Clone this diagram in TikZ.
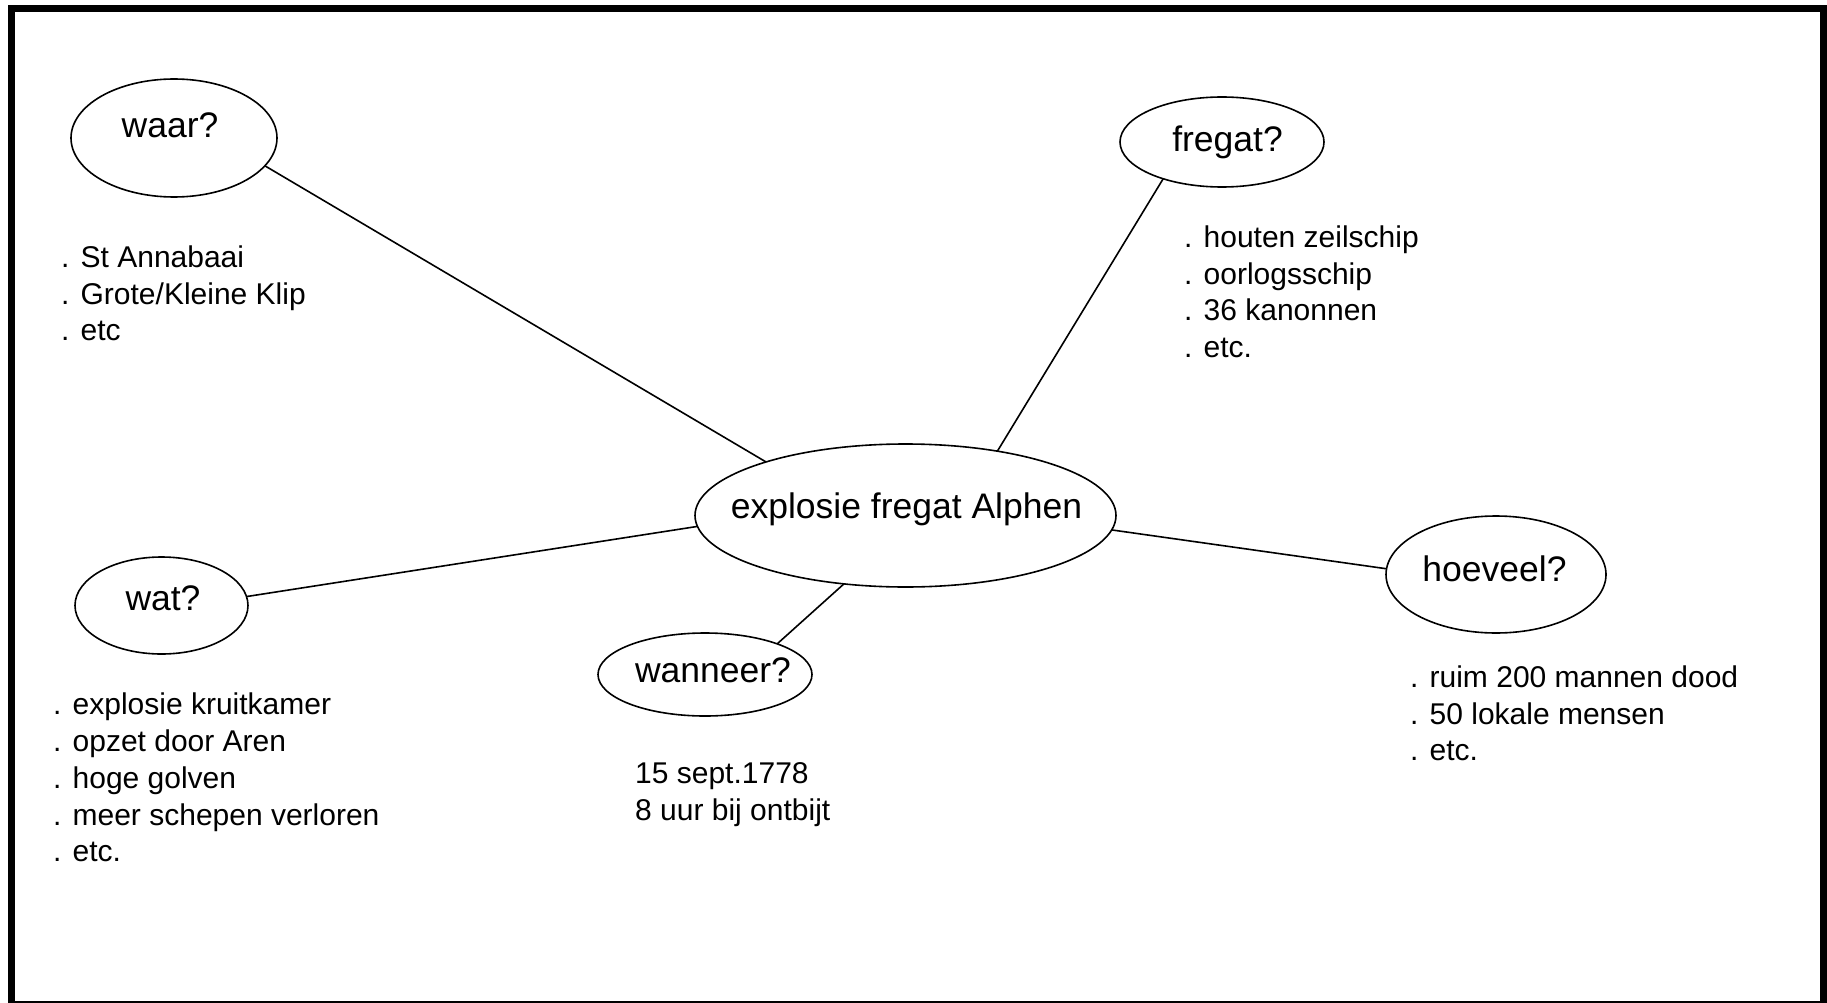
\documentclass[tikz,border=0pt]{standalone}
\usepackage{fontspec}
\setmainfont{Liberation Sans}
\usetikzlibrary{shapes.geometric}
\begin{document}
\begin{tikzpicture}[x=1pt,y=-1pt,
  bubble/.style={ellipse,draw=black,line width=1.6pt,inner sep=0pt,outer sep=0pt},
  bubbletext/.style={anchor=base,inner sep=0pt,font=\fontsize{35.5}{40}\selectfont},
  listtext/.style={anchor=north west,inner sep=0pt,align=left,font=\fontsize{30}{36.7}\selectfont},
  link/.style={line width=1.6pt}]
\useasboundingbox (0,0) rectangle (1827,1003);
\fill[white] (0,0) rectangle (1827,1003);
\draw[line width=7pt] (11.5,8.5) rectangle (1823.5,1004.5);

% ellipses
\node[bubble,minimum width=206pt,minimum height=118pt] (waar) at (174,138) {};
\node[bubble,minimum width=204pt,minimum height=90pt] (fregat) at (1222,142) {};
\node[bubble,minimum width=421pt,minimum height=143pt] (centre) at (905.5,515.5) {};
\node[bubble,minimum width=173pt,minimum height=97pt] (wat) at (161.5,605.5) {};
\node[bubble,minimum width=214pt,minimum height=83pt] (wanneer) at (705,674.5) {};
\node[bubble,minimum width=220pt,minimum height=117pt] (hoeveel) at (1496,574.5) {};

% ellipse labels
\node[bubbletext] (waarT) at (170,138) {waar?};
\node[bubbletext] (fregatT) at (1227.5,152) {fregat?};
\node[bubbletext] (centreT) at (906.5,518.5) {explosie fregat Alphen};
\node[bubbletext] (watT) at (163,610) {wat?};
\node[bubbletext] (wanneerT) at (713,682.5) {wanneer?};
\node[bubbletext] (hoeveelT) at (1494.5,581.7) {hoeveel?};

% connectors
\draw[link] (waar.-17.1) -- (centre.159.8);
\draw[link] (fregat.212.2) -- (centre.35);
\draw[link] (wat.6.1) -- (centre.183.4);
\draw[link] (wanneer.23.6) -- (centre.228.6);
\draw[link] (hoeveel.177.6) -- (centre.-4.9);

% lists
\node[listtext] (waarL) at (61,241.5) {\strut. St Annabaai\\. Grote/Kleine Klip\\. etc};
\node[listtext] (fregatL) at (1184,221.5) {\strut. houten zeilschip\\. oorlogsschip\\. 36 kanonnen\\. etc.};
\node[listtext] (watL) at (53,689) {\strut. explosie kruitkamer\\. opzet door Aren\\. hoge golven\\. meer schepen verloren\\. etc.};
\node[listtext] (wanneerL) at (635,758) {\strut 15 sept.1778\\8 uur bij ontbijt};
\node[listtext] (hoeveelL) at (1410,661.5) {\strut. ruim 200 mannen dood\\. 50 lokale mensen\\. etc.};
\end{tikzpicture}
\end{document}
